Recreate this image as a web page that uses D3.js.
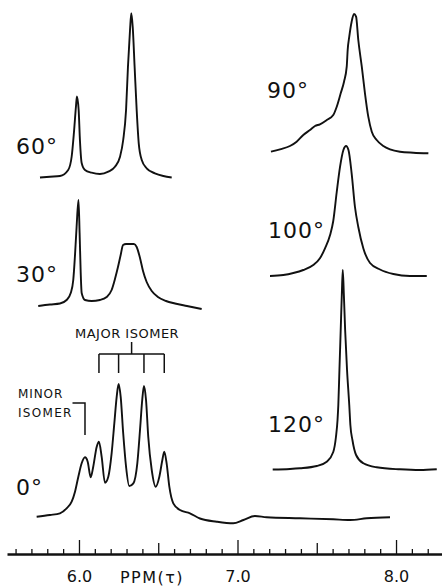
<!DOCTYPE html>
<html>
<head>
<meta charset="utf-8">
<script src="https://cdn.jsdelivr.net/npm/d3@7"></script>
<style>
  body { margin: 0; background: #fff; }
  svg { display: block; }
  text { font-family: "DejaVu Sans", sans-serif; fill: #111; }
</style>
</head>
<body>
<script>
// spectra: [ppm, signal height above baseline]
var spec0 = [[5.733,0.3],[5.817,2],[5.880,3.7],[5.922,8.7],[5.954,15.3],[5.975,25.3],[5.996,40.3],[6.017,53.7],
  [6.038,59.7],[6.055,55.3],[6.074,39.7],[6.090,50.3],[6.112,70.3],[6.126,75.3],[6.143,60.3],[6.164,34.3],
  [6.185,40.3],[6.206,63.7],[6.223,93.7],[6.238,120.3],[6.250,133],[6.263,120.3],[6.279,83.7],[6.297,50.3],
  [6.317,31],[6.343,33.7],[6.368,53.7],[6.385,87],[6.399,117],[6.410,131],[6.423,117],[6.437,80.3],
  [6.459,47],[6.484,30.3],[6.507,40.3],[6.526,57],[6.538,65.3],[6.553,53.7],[6.570,30.3],[6.595,13.7],
  [6.637,7],[6.700,3.7],[6.763,-1.5],[6.869,-4.7],[6.973,-6.3],[7.037,-3],[7.110,1],[7.184,-0.3],
  [7.394,-1.3],[7.604,-2.3],[7.710,-3],[7.815,-1.3],[7.962,-0.3]];

var spec30 = [[5.743,1],[5.817,2.5],[5.880,3.5],[5.922,7],[5.948,14],[5.964,27],[5.975,52],[5.985,80],
  [5.997,107],[6.004,74],[6.011,34],[6.017,14],[6.038,7],[6.080,6],[6.132,7],[6.175,10],[6.206,17],
  [6.227,28],[6.246,40],[6.263,52],[6.278,62],[6.297,63],[6.322,63],[6.347,63],[6.364,60],[6.385,49],
  [6.404,36],[6.427,25],[6.459,16],[6.498,10],[6.549,6],[6.606,3.5],[6.681,1],[6.774,-2]];

var spec60 = [[5.754,0],[5.817,0.8],[5.880,1.5],[5.932,7.5],[5.954,21],[5.968,44.5],[5.981,71],[5.987,81],
  [5.998,67.5],[6.006,37.5],[6.017,14.5],[6.038,7.5],[6.080,4.8],[6.132,3.5],[6.185,5.8],[6.227,10.8],
  [6.259,20.8],[6.279,37.5],[6.297,67.5],[6.309,110.8],[6.322,147.5],[6.330,164.2],[6.339,150.8],
  [6.351,110.8],[6.364,67.5],[6.377,34.2],[6.396,17.5],[6.427,9.2],[6.479,4.2],[6.532,1.5],[6.585,0]];

var spec90 = [[7.211,0.8],[7.268,3.2],[7.331,6.5],[7.373,10.8],[7.415,17.5],[7.457,22.5],[7.489,26.5],
  [7.520,28.2],[7.563,32.5],[7.604,37.5],[7.626,45.8],[7.651,59.2],[7.672,70.8],[7.689,85.8],[7.695,102.5],
  [7.705,115.8],[7.720,130.8],[7.735,138.5],[7.748,135.8],[7.762,112.5],[7.784,85.8],[7.804,59.2],
  [7.825,35.8],[7.847,20.8],[7.878,12.5],[7.920,6.5],[7.962,3.2],[8.025,0.8],[8.109,-0.2],[8.204,-0.8]];

var spec100 = [[7.205,1],[7.289,2],[7.352,4],[7.415,7],[7.478,12],[7.520,18.7],[7.552,28.7],[7.584,42],
  [7.604,56],[7.626,85],[7.647,110.3],[7.668,127],[7.685,131],[7.700,127],[7.720,103.7],[7.741,70],
  [7.762,50],[7.794,28.5],[7.836,14],[7.899,7.5],[7.983,3],[8.088,1],[8.194,1]];

var spec120 = [[7.222,0],[7.331,0.5],[7.394,1.2],[7.500,3.5],[7.563,7.8],[7.604,17.5],[7.621,32.5],
  [7.631,49.5],[7.636,64.5],[7.643,99.5],[7.651,139.5],[7.658,174.5],[7.664,199.5],[7.671,174.5],
  [7.679,139.5],[7.691,99.5],[7.705,64.5],[7.712,44.5],[7.725,29.5],[7.748,14.5],[7.794,6.2],
  [7.878,2.2],[8.025,0.2],[8.151,-0.5],[8.257,0.2]];

var majorIsomerPpm = [6.126, 6.250, 6.410, 6.538];
var minorIsomerPpm = [6.038];
var tickPpm = d3.range(56, 83).map(function(d){ return d / 10; });

var W = 442, H = 588;

var svg = d3.select('body').append('svg')
  .attr('width', W)
  .attr('height', H);

svg.append('rect').attr('width', W).attr('height', H).attr('fill', '#fff');

var x = d3.scaleLinear().domain([5.546, 8.29]).range([7, 442]);

// baseline y and label placement for each trace
var traces = [
  {data: spec60,  base: 177.5, label: '60\u00b0',  lx: 16,  ly: 154},
  {data: spec30,  base: 307,   label: '30\u00b0',  lx: 16,  ly: 282},
  {data: spec0,   base: 517,   label: '0\u00b0',   lx: 16,  ly: 495},
  {data: spec90,  base: 152.5, label: '90\u00b0',  lx: 267, ly: 98},
  {data: spec100, base: 277,   label: '100\u00b0', lx: 268, ly: 238},
  {data: spec120, base: 469.5, label: '120\u00b0', lx: 268, ly: 432}
];

traces.forEach(function(t){
  var y = d3.scaleLinear().domain([0, 200]).range([t.base, t.base - 200]);
  var line = d3.line()
    .x(function(d){ return x(d[0]); })
    .y(function(d){ return y(d[1]); })
    .curve(d3.curveMonotoneX);

  svg.append('path')
    .datum(t.data)
    .attr('d', line)
    .attr('fill', 'none')
    .attr('stroke', '#111')
    .attr('stroke-width', 1.9)
    .attr('stroke-linejoin', 'round');

  svg.append('text')
    .attr('x', t.lx)
    .attr('y', t.ly)
    .style('font-size', '22px')
    .style('letter-spacing', '1px')
    .text(t.label);
});

// Major isomer bracket
var br = svg.append('g').attr('stroke', '#111').attr('stroke-width', 1.5).attr('fill', 'none');
var bx0 = x(majorIsomerPpm[0]), bx1 = x(majorIsomerPpm[majorIsomerPpm.length - 1]);
br.append('line').attr('x1', bx0).attr('x2', bx1).attr('y1', 354).attr('y2', 354);
br.append('line').attr('x1', (bx0 + bx1) / 2).attr('x2', (bx0 + bx1) / 2).attr('y1', 342).attr('y2', 354);
br.selectAll('line.leg')
  .data(majorIsomerPpm)
  .enter()
  .append('line')
    .attr('class', 'leg')
    .attr('x1', function(d){ return x(d); })
    .attr('x2', function(d){ return x(d); })
    .attr('y1', 354)
    .attr('y2', 373);

svg.append('text')
  .attr('x', 75)
  .attr('y', 338)
  .style('font-size', '13px')
  .style('letter-spacing', '0.5px')
  .text('MAJOR ISOMER');

// Minor isomer bracket
var mx = x(minorIsomerPpm[0]);
br.append('path').attr('d', 'M' + (mx - 12.5) + ',403H' + mx + 'V435');

svg.append('text')
  .attr('x', 18).attr('y', 398)
  .style('font-size', '12px')
  .style('letter-spacing', '0.9px')
  .text('MINOR');
svg.append('text')
  .attr('x', 18).attr('y', 417)
  .style('font-size', '12px')
  .style('letter-spacing', '1.3px')
  .text('ISOMER');

// Axis
var axisY = 554;
var axis = d3.axisBottom(x)
  .tickValues(tickPpm)
  .tickSizeInner(-5)
  .tickSizeOuter(0)
  .tickPadding(17)
  .tickFormat(function(d){ return Math.abs(d - Math.round(d)) < 1e-6 ? d.toFixed(1) : ''; });

var ax = svg.append('g')
  .attr('transform', 'translate(0,' + axisY + ')')
  .call(axis);

ax.select('.domain').attr('stroke', '#111').attr('stroke-width', 2.5);
ax.selectAll('.tick line')
  .attr('stroke', '#111')
  .attr('stroke-width', 1.3)
  .attr('y2', function(d){
    var k = Math.round(d * 10);
    if (k % 10 === 0) return -14;
    if (k % 5 === 0) return -11;
    return -5;
  });
ax.selectAll('.tick text')
  .attr('fill', '#111')
  .style('font-family', '"DejaVu Sans", sans-serif')
  .style('font-size', '16px');

svg.append('text')
  .attr('x', 152)
  .attr('y', 583)
  .attr('text-anchor', 'middle')
  .style('font-size', '16px')
  .style('letter-spacing', '1.5px')
  .text('PPM(\u03c4)');
</script>
</body>
</html>
